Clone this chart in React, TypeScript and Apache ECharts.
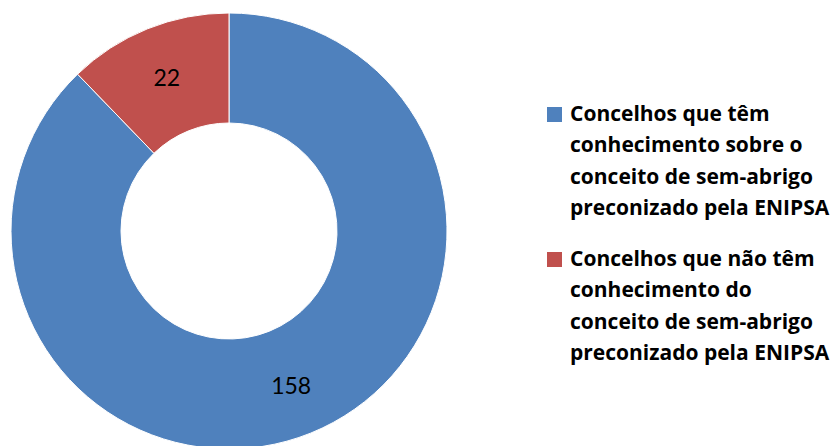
import React, { useEffect, useRef } from "react";
import * as echarts from "echarts";

const categories = [
  "Concelhos que têm conhecimento sobre o conceito de sem-abrigo preconizado pela ENIPSA",
  "Concelhos que não têm conhecimento do conceito de sem-abrigo preconizado pela ENIPSA",
];
const legendLines = [
  ["Concelhos que têm", "conhecimento sobre o", "conceito de sem-abrigo", "preconizado pela ENIPSA"],
  ["Concelhos que não têm", "conhecimento do", "conceito de sem-abrigo", "preconizado pela ENIPSA"],
];
const values = [158, 22];
const colors = ["#4F81BD", "#C0504D"];

export default function App() {
  const ref = useRef<HTMLDivElement>(null);
  useEffect(() => {
    if (!ref.current) return;
    const chart = echarts.init(ref.current, null, { renderer: "svg" });
    const legendTops = [97, 242];
    const graphic: any[] = [];
    legendLines.forEach((lines, i) => {
      graphic.push({
        type: "rect",
        shape: { x: 547, y: legendTops[i] + 10, width: 15, height: 15 },
        style: { fill: colors[i] },
      });
      graphic.push({
        type: "text",
        x: 570,
        y: legendTops[i],
        style: {
          text: lines.join("\n"),
          font: "bold 21px 'Open Sans'",
          lineHeight: 31.5,
          fill: "#000",
          verticalAlign: "top",
          align: "left",
        },
      });
    });
    chart.setOption({
      animation: false,
      backgroundColor: "#fff",
      graphic,
      series: [
        {
          type: "pie",
          center: [229, 231],
          radius: [108, 218],
          startAngle: 90,
          clockwise: true,
          avoidLabelOverlap: false,
          itemStyle: { borderColor: "#fff", borderWidth: 1 },
          label: {
            show: true,
            position: "inside",
            formatter: "{c}",
            color: "#000",
            fontFamily: "Lato",
            fontSize: 23,
          },
          labelLine: { show: false },
          emphasis: { disabled: true },
          data: values.map((v, i) => ({
            name: categories[i],
            value: v,
            itemStyle: { color: colors[i] },
          })),
        },
      ],
    });
    return () => chart.dispose();
  }, []);
  return (
    <div
      ref={ref}
      style={{ position: "fixed", left: 0, top: 0, width: 838, height: 446 }}
    />
  );
}
